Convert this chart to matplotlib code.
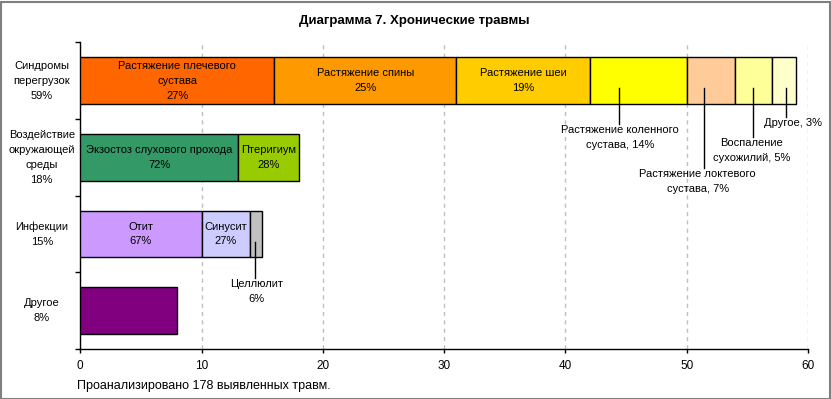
import matplotlib
matplotlib.use("Agg")
import matplotlib.pyplot as plt
from matplotlib.patches import Rectangle
import numpy as np

plt.rcParams['font.family'] = ['Liberation Sans', 'DejaVu Sans']

title = 'Диаграмма 7. Хронические травмы'
footer = 'Проанализировано 178 выявленных травм.'

categories = ['Синдромы\nперегрузок\n59%',
              'Воздействие\nокружающей\nсреды\n18%',
              'Инфекции\n15%',
              'Другое\n8%']

row_values = [
    [16, 15, 11, 8, 4, 3, 2],
    [13, 5],
    [10, 4, 1],
    [8],
]
row_colors = [
    ['#FF6600', '#FF9900', '#FFCC00', '#FFFF00', '#FFCC99', '#FFFF99', '#FFFFCC'],
    ['#339966', '#99CC00'],
    ['#CC99FF', '#CCCCFF', '#C0C0C0'],
    ['#800080'],
]
row_inside_labels = [
    ['Растяжение плечевого\nсустава\n27%', 'Растяжение спины\n25%', 'Растяжение шеи\n19%',
     None, None, None, None],
    ['Экзостоз слухового прохода\n72%', 'Птеригиум\n28%'],
    ['Отит\n67%', 'Синусит\n27%', None],
    [None],
]

# callout labels: (row, x of leader, y end of leader offset, text x, text)
callouts = [
    (0, 44.4, 0.565, 44.5, 'Растяжение коленного\nсустава, 14%'),
    (0, 51.4, 1.135, 50.9, 'Растяжение локтевого\nсустава, 7%'),
    (0, 55.5, 0.73, 55.35, 'Воспаление\nсухожилий, 5%'),
    (0, 58.15, 0.47, 58.8, 'Другое, 3%'),
    (2, 14.4, 0.573, 14.5, 'Целлюлит\n6%'),
]

FS = 8
LS = 1.62

fig = plt.figure(figsize=(8.31, 3.99), dpi=100)
ax = fig.add_axes([80.3 / 831, 1 - 349 / 399, (808 - 80.3) / 831, (349 - 42.3) / 399])

bar_h = 0.61
for i, (vals, cols, labs) in enumerate(zip(row_values, row_colors, row_inside_labels)):
    left = 0
    for v, c, lab in zip(vals, cols, labs):
        ax.barh(i, v, left=left, height=bar_h, color=c, edgecolor='black', linewidth=1.0, zorder=3)
        if lab:
            ax.text(left + v / 2, i, lab, ha='center', va='center', fontsize=FS,
                    linespacing=LS, zorder=4)
        left += v

for row, lx, yend, tx, txt in callouts:
    ax.plot([lx, lx], [row + 0.1, row + yend], color='black', linewidth=1.0, zorder=4)
    ax.text(tx, row + yend + 0.015, txt, ha='center', va='top', fontsize=FS,
            linespacing=LS, zorder=4)

ax.set_xlim(0, 60)
ax.set_ylim(3.5, -0.5)
ax.set_xticks(np.arange(0, 61, 10))
ax.set_yticks(np.arange(-0.5, 3.6, 1.0))
ax.set_yticklabels([])
ax.tick_params(axis='x', length=3, width=1, labelsize=8.5, pad=5)
ax.tick_params(axis='y', length=3.5, width=1)
ax.xaxis.grid(True, linestyle=(0, (3, 3)), color='#C0C0C0', linewidth=1.0, zorder=0)
ax.set_axisbelow(True)
for s in ['top', 'right']:
    ax.spines[s].set_visible(False)
for s in ['left', 'bottom']:
    ax.spines[s].set_linewidth(1.0)

trans = matplotlib.transforms.blended_transform_factory(ax.transAxes, ax.transData)
for i, cat in enumerate(categories):
    ax.text(-0.053, i, cat, transform=trans, ha='center', va='center', fontsize=FS,
            linespacing=LS)

fig.text(414.5 / 831, 1 - 21 / 399, title, ha='center', va='center', fontsize=9.5,
         fontweight='bold')
fig.text(77 / 831, 1 - 386 / 399, footer, ha='left', va='center', fontsize=9)

fig.patches.append(Rectangle((0.5 / 831, 0.5 / 399), 1 - 2 / 831, 1 - 2 / 399,
                             transform=fig.transFigure, fill=False, edgecolor='#808080',
                             linewidth=1.5))

fig.savefig('out.png', dpi=100)
